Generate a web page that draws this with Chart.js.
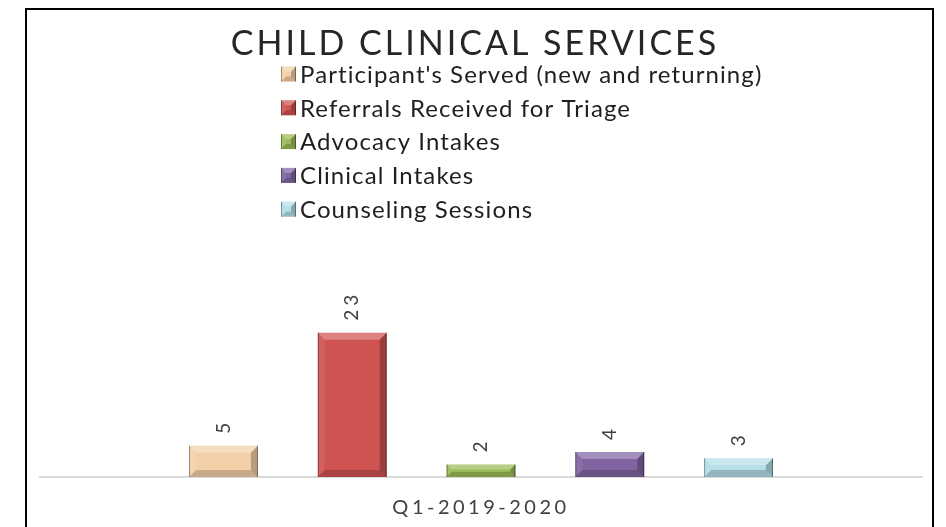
<!DOCTYPE html>
<html>
<head>
<meta charset="utf-8">
<script src="https://cdn.jsdelivr.net/npm/chart.js@4.4.1/dist/chart.umd.min.js"></script>
<style>
  html, body { margin: 0; padding: 0; background: #ffffff; }
  #wrap { width: 946px; height: 527px; }
</style>
</head>
<body>
<div id="wrap"><canvas id="c" width="946" height="527"></canvas></div>
<script>
const chartTitle = "CHILD CLINICAL SERVICES";
const categories = ["Q1-2019-2020"];
const seriesNames = [
  "Participant's Served (new and returning)",
  "Referrals Received for Triage",
  "Advocacy Intakes",
  "Clinical Intakes",
  "Counseling Sessions"
];
const participantsServed = [5];
const referralsReceived = [23];
const advocacyIntakes = [2];
const clinicalIntakes = [4];
const counselingSessions = [3];
const seriesColors = ["#F4D0A8", "#CF5351", "#9BBB59", "#8064A2", "#B4DEE8"];

const seriesValues = [participantsServed, referralsReceived, advocacyIntakes, clinicalIntakes, counselingSessions];

const FONT = "Lato, 'Open Sans', sans-serif";

function bevelRect(ctx, left, top, right, bottom, b) {
  const poly = (pts, fill) => {
    ctx.beginPath();
    ctx.moveTo(pts[0][0], pts[0][1]);
    for (let i = 1; i < pts.length; i++) ctx.lineTo(pts[i][0], pts[i][1]);
    ctx.closePath();
    ctx.fillStyle = fill;
    ctx.fill();
  };
  poly([[left, top], [right, top], [right - b, top + b], [left + b, top + b]], "rgba(255,255,255,0.28)");
  poly([[left, top], [left + b, top + b], [left + b, bottom - b], [left, bottom]], "rgba(255,255,255,0.08)");
  poly([[right, top], [right - b, top + b], [right - b, bottom - b], [right, bottom]], "rgba(0,0,0,0.25)");
  poly([[left, bottom], [left + b, bottom - b], [right - b, bottom - b], [right, bottom]], "rgba(0,0,0,0.18)");
  ctx.strokeStyle = "rgba(0,0,0,0.35)";
  ctx.lineWidth = 1;
  ctx.beginPath();
  ctx.moveTo(left + 0.5, top); ctx.lineTo(left + 0.5, bottom);
  ctx.moveTo(right - 0.5, top); ctx.lineTo(right - 0.5, bottom);
  ctx.stroke();
}

const decorPlugin = {
  id: 'decor',
  beforeDraw(chart) {
    chart.ctx.letterSpacing = '3.5px';
  },
  afterDatasetsDraw(chart) {
    const ctx = chart.ctx;
    ctx.save();
    chart.data.datasets.forEach((ds, i) => {
      const meta = chart.getDatasetMeta(i);
      meta.data.forEach((bar, j) => {
        const p = bar.getProps(['x', 'y', 'base', 'width'], true);
        const left = p.x - p.width / 2, right = p.x + p.width / 2;
        const top = Math.min(p.y, p.base), bottom = Math.max(p.y, p.base);
        const b = Math.min(7, (bottom - top) / 2.5);
        bevelRect(ctx, left, top, right, bottom, b);
        // rotated value label
        ctx.save();
        ctx.translate(p.x, top - 12);
        ctx.rotate(-Math.PI / 2);
        ctx.letterSpacing = '4px';
        ctx.font = "19px " + FONT;
        ctx.fillStyle = "#404040";
        ctx.textAlign = "left";
        ctx.textBaseline = "middle";
        ctx.fillText(String(ds.data[j]), 0, 0);
        ctx.restore();
      });
    });
    ctx.restore();
  },
  afterDraw(chart) {
    const ctx = chart.ctx;
    ctx.save();
    // outer frame
    ctx.strokeStyle = "#000000";
    ctx.lineWidth = 2;
    ctx.beginPath();
    ctx.moveTo(26, 527);
    ctx.lineTo(26, 9);
    ctx.lineTo(933, 9);
    ctx.lineTo(933, 527);
    ctx.stroke();
    // title
    ctx.letterSpacing = '3px';
    ctx.font = "34px " + FONT;
    ctx.fillStyle = "#262626";
    ctx.textAlign = "center";
    ctx.textBaseline = "alphabetic";
    ctx.fillText(chartTitle, 475, 55);
    // legend
    ctx.letterSpacing = '1.1px';
    ctx.font = "24px " + FONT;
    ctx.textAlign = "left";
    ctx.textBaseline = "middle";
    chart.data.datasets.forEach((ds, i) => {
      const cy = 74 + i * 33.8;
      const x0 = 281, s = 15;
      ctx.fillStyle = ds.backgroundColor;
      ctx.fillRect(x0, cy - s / 2, s, s);
      bevelRect(ctx, x0, cy - s / 2, x0 + s, cy + s / 2, 5);
      ctx.fillStyle = "#1f1f1f";
      ctx.fillText(ds.label, 300, cy + 1);
    });
    ctx.restore();
  }
};

const datasets = seriesNames.map((name, i) => ({
  label: name,
  data: seriesValues[i],
  backgroundColor: seriesColors[i],
  borderWidth: 0
}));

new Chart(document.getElementById('c'), {
  type: 'bar',
  data: { labels: categories, datasets: datasets },
  options: {
    responsive: false,
    devicePixelRatio: 1,
    animation: false,
    layout: { padding: { left: 40, right: 24, top: 226, bottom: 0 } },
    datasets: { bar: { categoryPercentage: 0.73, barPercentage: 0.535 } },
    plugins: {
      legend: { display: false },
      title: { display: false },
      tooltip: { enabled: false }
    },
    scales: {
      x: {
        grid: { display: false },
        border: { display: true, color: '#d9d9d9', width: 2 },
        ticks: { color: '#404040', font: { family: FONT, size: 20 }, padding: 11 },
        afterFit(scale) { scale.height = 50; }
      },
      y: {
        display: false,
        min: 0,
        max: 40
      }
    }
  },
  plugins: [decorPlugin]
});
</script>
</body>
</html>
